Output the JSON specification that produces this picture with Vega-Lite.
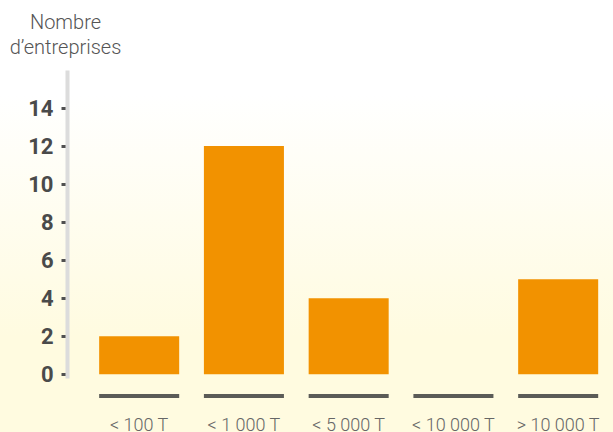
{
  "$schema": "https://vega.github.io/schema/vega-lite/v6.json",
  "width": 613,
  "height": 432,
  "autosize": {"type": "none"},
  "padding": 0,
  "background": "#ffffff",
  "config": {
    "view": {
      "stroke": null,
      "fill": {
        "gradient": "linear",
        "x1": 0, "y1": 0, "x2": 0, "y2": 1,
        "stops": [
          {"offset": 0, "color": "#ffffff"},
          {"offset": 0.22, "color": "#ffffff"},
          {"offset": 0.78, "color": "#fffbe0"},
          {"offset": 1, "color": "#fffbe0"}
        ]
      }
    },
    "font": "Roboto"
  },
  "data": {
    "values": [
      {"cat": "< 100 T", "n": 2},
      {"cat": "< 1 000 T", "n": 12},
      {"cat": "< 5 000 T", "n": 4},
      {"cat": "< 10 000 T", "n": 0},
      {"cat": "> 10 000 T", "n": 5}
    ]
  },
  "encoding": {
    "x": {
      "field": "cat",
      "type": "nominal",
      "sort": null,
      "scale": {"paddingInner": 0.236, "paddingOuter": 0.544, "align": 0.87},
      "axis": {
        "title": null,
        "orient": "bottom",
        "offset": -15.5,
        "domain": false,
        "ticks": false,
        "tickSize": 0,
        "labelPadding": 0,
        "labelAngle": 0,
        "labelBaseline": "top",
        "labelFont": "Roboto",
        "labelFontWeight": 300,
        "labelFontSize": 18,
        "labelColor": "#666666",
        "labelOverlap": false,
        "labelBound": false,
        "labelFlush": false
      }
    }
  },
  "layer": [
    {
      "mark": {"type": "bar", "color": "#f29200", "clip": false},
      "encoding": {
        "y": {
          "field": "n",
          "type": "quantitative",
          "scale": {"domain": [-0.2, 16], "range": [378, 70], "nice": false, "zero": false},
          "axis": {
            "orient": "left",
            "offset": -67,
            "values": [0, 2, 4, 6, 8, 10, 12, 14],
            "grid": false,
            "domainColor": "#dcdcdc",
            "domainWidth": 4,
            "tickColor": "#505050",
            "tickWidth": 3,
            "tickSize": 6,
            "labelPadding": 8,
            "labelFont": "Roboto",
            "labelFontWeight": "bold",
            "labelFontSize": 22,
            "labelColor": "#4a4a4a",
            "labelBaseline": "middle",
            "title": ["Nombre", "d’entreprises"],
            "titleAngle": 0,
            "titleAlign": "center",
            "titleBaseline": "top",
            "titleX": -2,
            "titleY": 12,
            "titleFont": "Roboto",
            "titleFontWeight": 300,
            "titleFontSize": 20,
            "titleLineHeight": 25,
            "titleColor": "#555555"
          }
        },
        "y2": {"datum": 0}
      }
    },
    {
      "mark": {"type": "bar", "color": "#5b5b57", "clip": false},
      "encoding": {
        "y": {"datum": -1.04},
        "y2": {"datum": -1.25}
      }
    }
  ]
}
